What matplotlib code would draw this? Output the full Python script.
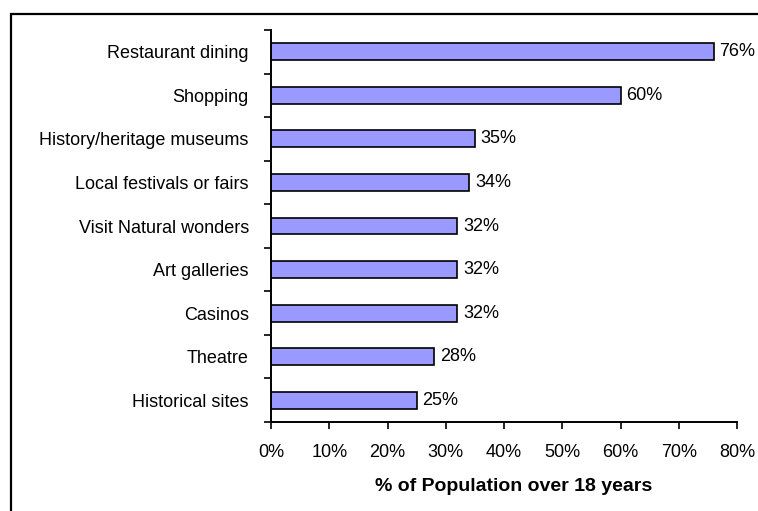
import matplotlib.pyplot as plt
from matplotlib.patches import Rectangle
from matplotlib.ticker import FixedLocator, PercentFormatter

plt.rcParams['font.family'] = ['Liberation Sans', 'DejaVu Sans']

activities = [
    'Restaurant dining',
    'Shopping',
    'History/heritage museums',
    'Local festivals or fairs',
    'Visit Natural wonders',
    'Art galleries',
    'Casinos',
    'Theatre',
    'Historical sites',
]
shares = [76, 60, 35, 34, 32, 32, 32, 28, 25]
x_ticks = [0, 10, 20, 30, 40, 50, 60, 70, 80]

W, H = 758, 511
fig = plt.figure(figsize=(W / 100, H / 100), dpi=100)
ax = fig.add_axes([271 / W, 1 - 422 / H, (737 - 271) / W, (422 - 30) / H])

# outer frame, open to the right and bottom
fig.patches.append(Rectangle((11 / W, -0.1), 1.2, 1 - 14 / H + 0.1,
                             transform=fig.transFigure, fill=False,
                             edgecolor='black', linewidth=1.6))

n = len(activities)
pos = list(range(n - 1, -1, -1))
bars = ax.barh(pos, shares, height=0.39, color='#9999FF',
               edgecolor='black', linewidth=1.2)

for b, v in zip(bars, shares):
    ax.text(b.get_width() + 1.0, b.get_y() + b.get_height() / 2, f'{v}%',
            va='center', ha='left', fontsize=13)

ax.set_xlim(0, 80)
ax.set_ylim(-0.5, n - 0.5)
ax.set_xticks(x_ticks)
ax.xaxis.set_major_formatter(PercentFormatter(decimals=0))
ax.set_yticks(pos)
ax.set_yticklabels(activities)
ax.yaxis.set_minor_locator(FixedLocator([i - 0.5 for i in range(n + 1)]))

ax.tick_params(axis='y', which='major', length=0, pad=16, labelsize=13)
ax.tick_params(axis='y', which='minor', length=5, width=1.2, direction='out')
ax.tick_params(axis='x', length=5, width=1.2, direction='out', pad=11,
               labelsize=13)

for s in ('top', 'right'):
    ax.spines[s].set_visible(False)
for s in ('left', 'bottom'):
    ax.spines[s].set_linewidth(1.4)

ax.set_xlabel('% of Population over 18 years', fontsize=14,
              fontweight='bold')
ax.xaxis.set_label_coords(0.52, -0.143)

fig.savefig('out.png', dpi=100)
